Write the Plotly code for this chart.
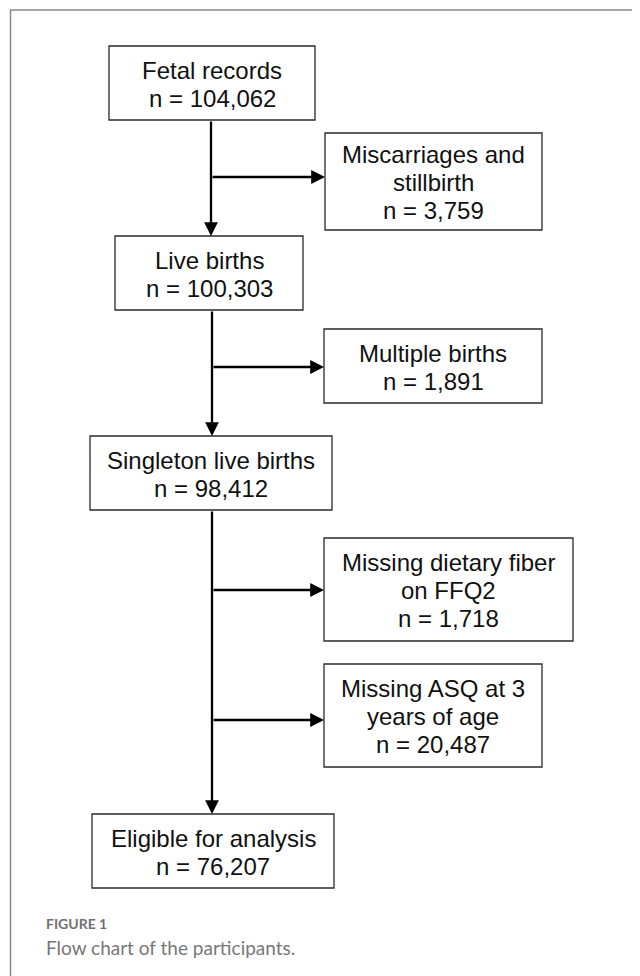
import plotly.graph_objects as go

# ---------------- data ----------------
stage_titles = ["Fetal records", "Live births", "Singleton live births", "Eligible for analysis"]
stage_counts = [104062, 100303, 98412, 76207]
exclusion_titles = [["Miscarriages and", "stillbirth"], ["Multiple births"],
                    ["Missing dietary fiber", "on FFQ2"], ["Missing ASQ at 3", "years of age"]]
exclusion_counts = [3759, 1891, 1718, 20487]
caption_label = "FIGURE 1"
caption_text = "Flow chart of the participants."

# ---------------- layout geometry (page pixels) ----------------
W, H = 640, 976
BODY_MARGIN = 8  # default page margin around the plot div
stage_boxes = [(109, 315, 46, 120), (115, 303, 236, 310), (90, 332, 436, 510), (92, 334, 814, 888)]
excl_boxes = [(325, 542, 133, 230), (324, 542, 329, 403), (324, 573, 538, 641), (324, 542, 664, 767)]
spine_x = [211, 212, 212]
excl_segment = [0, 1, 2, 2]
branch_y = [177, 367, 590, 720]
LINE_H = 28

box_font = dict(family="Liberation Sans, Arial, sans-serif", size=24, color="#111111")

fig = go.Figure()
shapes = []
annotations = []


def add_box(box, lines):
    x0, x1, y0, y1 = box
    shapes.append(dict(type="rect", xref="x", yref="y", x0=x0, x1=x1, y0=y0, y1=y1,
                       line=dict(color="#2a2a2a", width=1.3), fillcolor="white", layer="below"))
    cx = (x0 + x1) / 2
    cy = (y0 + y1) / 2 + 1
    n = len(lines)
    for i, t in enumerate(lines):
        annotations.append(dict(x=cx, y=cy + (i - (n - 1) / 2) * LINE_H, xref="x", yref="y",
                                text=t, showarrow=False, font=box_font,
                                xanchor="center", yanchor="middle"))


for box, title, cnt in zip(stage_boxes, stage_titles, stage_counts):
    add_box(box, [title, f"n = {cnt:,}"])
for box, title, cnt in zip(excl_boxes, exclusion_titles, exclusion_counts):
    add_box(box, list(title) + [f"n = {cnt:,}"])


def add_arrow(x_tail, y_tail, x_tip, y_tip):
    annotations.append(dict(x=x_tip, y=y_tip, ax=x_tail, ay=y_tail,
                            xref="x", yref="y", axref="x", ayref="y",
                            text="", showarrow=True, arrowhead=2, arrowsize=1.2,
                            arrowwidth=2.3, arrowcolor="#000000", standoff=0, startstandoff=0))


# spine arrows between consecutive stage boxes
for i in range(len(stage_boxes) - 1):
    add_arrow(spine_x[i], stage_boxes[i][3], spine_x[i], stage_boxes[i + 1][2])
# branch arrows to exclusion boxes
for j, box in enumerate(excl_boxes):
    add_arrow(spine_x[excl_segment[j]], branch_y[j], box[0], branch_y[j])

# outer frame (top and left edges)
shapes.append(dict(type="line", xref="x", yref="y", x0=10, x1=W + 10, y0=10, y1=10,
                   line=dict(color="#8a8a8a", width=1.5)))
shapes.append(dict(type="line", xref="x", yref="y", x0=10.5, x1=10.5, y0=10, y1=H + 10,
                   line=dict(color="#8a8a8a", width=1.5)))

# caption
annotations.append(dict(x=44, y=923, xref="x", yref="y", text=f"<b>{caption_label}</b>",
                        showarrow=False, xanchor="left", yanchor="middle",
                        font=dict(family="Lato, Open Sans, sans-serif", size=14, color="#707070")))
annotations.append(dict(x=44, y=947, xref="x", yref="y", text=caption_text,
                        showarrow=False, xanchor="left", yanchor="middle",
                        font=dict(family="Lato, Open Sans, sans-serif", size=19, color="#777777")))

fig.update_layout(
    width=W - BODY_MARGIN, height=H - BODY_MARGIN, margin=dict(l=0, r=0, t=0, b=0),
    paper_bgcolor="white", plot_bgcolor="white",
    xaxis=dict(range=[BODY_MARGIN, W], visible=False, fixedrange=True),
    yaxis=dict(range=[H, BODY_MARGIN], visible=False, fixedrange=True),
    shapes=shapes, annotations=annotations, showlegend=False,
)

fig.write_html("out.html", config={"displayModeBar": False})
